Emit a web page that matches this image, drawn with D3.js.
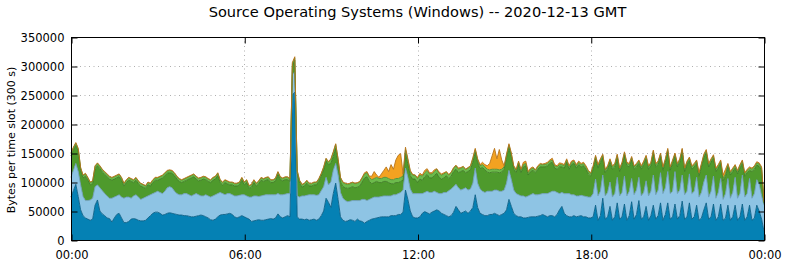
<!DOCTYPE html>
<html>
<head>
<meta charset="utf-8">
<script src="https://cdn.jsdelivr.net/npm/d3@7"></script>
<style>
body { margin: 0; background: #fff; }
svg { display: block; font-family: "DejaVu Sans", sans-serif; }
</style>
</head>
<body>
<svg></svg>
<script>
// values per 5 minute slot, in thousands of bytes (one row per hour)
let darkBlue = [
  74, 85, 96, 75, 52, 42, 38, 36, 34, 36, 60, 69,
  50, 45, 42, 38, 37, 31, 38, 44, 46, 38, 30, 30,
  32, 36, 37, 36, 34, 33, 33, 34, 38, 42, 46, 48,
  48, 46, 43, 44, 46, 47, 46, 45, 44, 43, 43, 42,
  42, 41, 40, 40, 41, 42, 43, 42, 40, 38, 35, 34,
  36, 40, 43, 44, 44, 45, 46, 44, 40, 38, 40, 42,
  40, 38, 36, 32, 33, 34, 35, 34, 34, 35, 36, 37,
  36, 38, 45, 40, 38, 40, 42, 40, 250, 255, 40, 36,
  36, 35, 36, 34, 35, 36, 34, 36, 42, 50, 72, 65,
  56, 80, 98, 70, 40, 34, 32, 33, 35, 34, 32, 36,
  33, 32, 29, 32, 34, 36, 37, 38, 39, 40, 40, 40,
  40, 42, 42, 42, 44, 44, 48, 86, 70, 50, 40, 38,
  38, 40, 46, 49, 47, 45, 48, 50, 52, 50, 46, 44,
  42, 40, 42, 48, 58, 52, 46, 48, 50, 46, 50, 56,
  78, 56, 46, 44, 42, 42, 44, 44, 46, 44, 42, 44,
  46, 52, 70, 58, 46, 42, 40, 40, 38, 38, 39, 40,
  40, 40, 41, 42, 44, 42, 40, 42, 42, 40, 44, 52,
  58, 46, 42, 40, 40, 42, 40, 41, 42, 40, 40, 38,
  38, 40, 60, 34, 42, 72, 36, 40, 58, 34, 40, 64,
  36, 40, 62, 34, 42, 66, 36, 44, 68, 36, 40, 58,
  34, 42, 60, 36, 42, 64, 34, 44, 64, 36, 40, 62,
  36, 42, 67, 36, 40, 64, 36, 40, 60, 34, 38, 52,
  64, 36, 40, 62, 34, 40, 62, 34, 38, 60, 34, 40,
  60, 34, 40, 62, 34, 40, 60, 34, 38, 60, 50, 36,
  15
]
let lightBlue = [
  34, 35, 36, 43, 43, 33, 30, 32, 35, 36, 32, 26,
  40, 40, 38, 38, 35, 41, 36, 32, 32, 36, 42, 44,
  42, 36, 39, 42, 40, 37, 39, 40, 38, 36, 34, 34,
  36, 36, 37, 40, 44, 45, 44, 39, 36, 35, 35, 38,
  38, 37, 36, 38, 39, 36, 33, 34, 38, 38, 39, 42,
  42, 40, 39, 36, 34, 35, 34, 34, 36, 38, 37, 36,
  38, 38, 38, 42, 43, 42, 40, 42, 43, 43, 42, 41,
  42, 40, 35, 38, 40, 39, 38, 40, 35, 35, 36, 38,
  40, 41, 41, 44, 43, 42, 43, 42, 43, 42, 36, 30,
  44, 40, 34, 42, 42, 38, 36, 33, 32, 34, 36, 32,
  35, 38, 41, 36, 36, 36, 37, 36, 35, 35, 36, 36,
  36, 34, 36, 36, 36, 38, 38, 38, 38, 38, 40, 42,
  42, 40, 34, 33, 37, 37, 34, 34, 30, 30, 34, 38,
  40, 45, 46, 44, 38, 38, 40, 40, 40, 40, 38, 42,
  46, 42, 42, 40, 40, 42, 40, 40, 40, 42, 42, 40,
  40, 46, 50, 46, 40, 38, 38, 36, 38, 36, 37, 38,
  40, 38, 37, 37, 36, 38, 40, 40, 42, 44, 38, 28,
  24, 34, 38, 40, 38, 36, 36, 35, 35, 36, 35, 36,
  36, 40, 45, 42, 42, 40, 40, 42, 42, 40, 40, 44,
  40, 42, 48, 42, 42, 40, 42, 42, 40, 40, 42, 44,
  42, 42, 52, 42, 44, 52, 46, 46, 54, 44, 44, 56,
  44, 44, 45, 42, 44, 50, 44, 44, 48, 40, 44, 48,
  48, 38, 44, 48, 38, 42, 44, 36, 42, 46, 38, 42,
  48, 38, 40, 50, 40, 40, 46, 38, 42, 44, 46, 40,
  45
]
let darkGreen = [
  37, 35, 31, 35, 25, 32, 42, 35, 26, 25, 31, 33,
  33, 32, 33, 33, 33, 31, 31, 31, 31, 29, 21, 25,
  29, 29, 23, 25, 23, 23, 19, 15, 19, 15, 19, 21,
  19, 23, 27, 27, 25, 24, 25, 27, 25, 23, 21, 21,
  23, 27, 31, 31, 25, 24, 27, 29, 26, 25, 25, 27,
  27, 31, 17, 15, 21, 17, 15, 17, 17, 17, 18, 25,
  17, 23, 15, 17, 23, 17, 22, 27, 24, 25, 26, 21,
  21, 24, 33, 26, 24, 25, 24, 21, 15, 20, 39, 24,
  15, 17, 21, 15, 15, 17, 18, 23, 25, 29, 28, 35,
  32, 24, 26, 20, 18, 20, 22, 23, 23, 24, 22, 23,
  25, 30, 37, 41, 31, 25, 25, 27, 25, 24, 25, 25,
  23, 21, 19, 21, 19, 19, 17, 25, 23, 23, 25, 25,
  19, 25, 23, 27, 29, 25, 25, 27, 33, 28, 25, 25,
  29, 21, 22, 26, 26, 26, 32, 32, 26, 32, 33, 36,
  27, 35, 35, 41, 39, 33, 32, 33, 31, 31, 32, 33,
  36, 44, 40, 40, 36, 36, 52, 40, 50, 54, 36, 40,
  40, 38, 44, 47, 46, 46, 48, 50, 50, 40, 40, 46,
  44, 44, 54, 42, 52, 54, 48, 54, 49, 52, 47, 40,
  36, 42, 35, 48, 50, 30, 40, 40, 34, 48, 46, 34,
  42, 46, 36, 52, 42, 32, 44, 40, 24, 46, 48, 38,
  46, 44, 37, 48, 44, 28, 40, 44, 34, 40, 48, 26,
  46, 48, 40, 40, 46, 23, 42, 42, 24, 36, 44, 42,
  38, 52, 50, 31, 46, 42, 26, 32, 30, 20, 40, 36,
  16, 42, 44, 20, 36, 36, 14, 46, 42, 25, 31, 44,
  3
]
let lightGreen = [
  4, 4, 4, 4, 4, 4, 4, 4, 4, 4, 4, 4,
  4, 4, 4, 4, 4, 4, 4, 4, 4, 4, 4, 4,
  4, 4, 4, 4, 4, 4, 4, 4, 4, 4, 4, 4,
  4, 4, 4, 4, 4, 4, 4, 4, 4, 4, 4, 4,
  4, 4, 4, 4, 4, 4, 4, 4, 4, 4, 4, 4,
  4, 4, 4, 4, 4, 4, 4, 4, 4, 4, 4, 4,
  4, 4, 4, 4, 4, 4, 4, 4, 4, 4, 4, 4,
  4, 4, 4, 4, 4, 4, 4, 4, 4, 4, 4, 4,
  4, 4, 4, 4, 4, 4, 4, 4, 4, 4, 4, 4,
  7, 7, 7, 7, 7, 7, 7, 7, 7, 7, 7, 7,
  7, 7, 7, 7, 7, 7, 7, 7, 7, 7, 7, 7,
  7, 7, 7, 7, 7, 7, 7, 7, 7, 7, 7, 7,
  7, 7, 7, 7, 7, 7, 7, 7, 7, 7, 7, 7,
  6, 6, 6, 6, 6, 6, 6, 6, 6, 6, 6, 6,
  5, 5, 5, 5, 5, 5, 5, 5, 5, 5, 5, 5,
  4, 4, 4, 4, 4, 4, 4, 4, 4, 4, 4, 4,
  4, 4, 4, 4, 4, 4, 4, 4, 4, 4, 4, 4,
  4, 4, 4, 4, 4, 4, 4, 4, 4, 4, 4, 4,
  4, 4, 4, 4, 4, 4, 4, 4, 4, 4, 4, 4,
  4, 4, 4, 4, 4, 4, 4, 4, 4, 4, 4, 4,
  4, 4, 4, 4, 4, 4, 4, 4, 4, 4, 4, 4,
  4, 4, 4, 4, 4, 4, 4, 4, 4, 4, 4, 4,
  4, 4, 4, 4, 4, 4, 4, 4, 4, 4, 4, 4,
  4, 4, 4, 4, 4, 4, 4, 4, 4, 4, 4, 4,
  2
]
let orange = [
  1, 1, 1, 1, 1, 1, 1, 1, 1, 1, 1, 1,
  1, 1, 1, 1, 1, 1, 1, 1, 1, 1, 1, 1,
  1, 1, 1, 1, 1, 1, 1, 1, 1, 1, 1, 1,
  1, 1, 1, 1, 1, 1, 1, 1, 1, 1, 1, 1,
  1, 1, 1, 1, 1, 1, 1, 1, 1, 1, 1, 1,
  1, 1, 1, 1, 1, 1, 1, 1, 1, 1, 1, 1,
  1, 1, 1, 1, 1, 1, 1, 1, 1, 1, 1, 1,
  1, 1, 1, 1, 1, 1, 1, 1, 2, 2, 1, 1,
  1, 1, 1, 1, 1, 1, 1, 1, 1, 1, 1, 1,
  1, 1, 1, 1, 1, 1, 1, 1, 1, 1, 1, 1,
  1, 1, 2, 2, 2, 6, 12, 4, 2, 8, 12, 18,
  12, 26, 18, 32, 40, 41, 4, 4, 2, 2, 1, 0,
  2, 3, 2, 4, 3, 2, 2, 3, 1, 2, 2, 2,
  1, 1, 1, 1, 1, 2, 1, 1, 0, 1, 1, 2,
  2, 2, 2, 4, 4, 6, 11, 23, 36, 18, 35, 16,
  2, 2, 2, 2, 2, 2, 2, 2, 4, 4, 2, 2,
  2, 1, 2, 2, 1, 2, 2, 2, 3, 2, 2, 3,
  2, 2, 2, 2, 2, 2, 2, 2, 2, 2, 2, 2,
  2, 2, 2, 2, 2, 2, 2, 2, 2, 2, 2, 2,
  2, 2, 2, 2, 2, 2, 2, 2, 2, 2, 2, 2,
  2, 2, 2, 2, 2, 2, 2, 2, 2, 2, 2, 2,
  2, 2, 2, 2, 2, 2, 2, 2, 2, 2, 2, 2,
  2, 2, 2, 2, 2, 2, 2, 6, 8, 2, 2, 2,
  2, 2, 2, 2, 2, 2, 2, 2, 2, 2, 2, 2,
  1
]

let yTicks = [0, 50000, 100000, 150000, 200000, 250000, 300000, 350000]
let xTickHours = [0, 6, 12, 18, 24]

let title = 'Source Operating Systems (Windows) -- 2020-12-13 GMT'
let yLabel = 'Bytes per time slot (300 s)'

let width = 785
let height = 264
let plotLeft = 71
let plotRight = 764
let plotTop = 37
let plotBottom = 240

let dayStart = Date.UTC(2020, 11, 13)
let slotMs = 300 * 1000

let keys = ['darkBlue', 'lightBlue', 'darkGreen', 'lightGreen', 'orange']
let fills = { darkBlue: '#0581b4', lightBlue: '#8ec4e4', darkGreen: '#4e9a2c', lightGreen: '#6cbb4c', orange: '#f3a221' }
let strokes = { darkBlue: '#0a5f86', lightBlue: '#6f9ebd', darkGreen: '#3d7a22', lightGreen: '#4f8d34', orange: '#b8741a' }

let series = { darkBlue, lightBlue, darkGreen, lightGreen, orange }
let rows = darkBlue.map((v, i) => {
  let row = { time: new Date(dayStart + i * slotMs) }
  keys.forEach(k => { row[k] = series[k][i] * 1000 })
  return row
})

let svg = d3.select('svg').attr('width', width).attr('height', height)

let xScale = d3.scaleUtc()
  .domain([new Date(dayStart), new Date(dayStart + 24 * 3600 * 1000)])
  .range([plotLeft, plotRight])
let yScale = d3.scaleLinear()
  .domain([0, 350000])
  .range([plotBottom, plotTop])

let xTickDates = xTickHours.map(h => new Date(dayStart + h * 3600 * 1000))

// grid
let grid = svg.append('g').attr('stroke', '#b0b0b0').attr('stroke-dasharray', '1,3.5')
grid.selectAll('.gy')
  .data(yTicks.slice(1, -1))
  .enter()
  .append('line')
  .attr('x1', plotLeft).attr('x2', plotRight)
  .attr('y1', d => Math.round(yScale(d)) + 0.5)
  .attr('y2', d => Math.round(yScale(d)) + 0.5)
grid.selectAll('.gx')
  .data(xTickDates.slice(1, -1))
  .enter()
  .append('line')
  .attr('y1', plotTop).attr('y2', plotBottom)
  .attr('x1', d => Math.round(xScale(d)) + 0.5)
  .attr('x2', d => Math.round(xScale(d)) + 0.5)

// stacked areas
let stacked = d3.stack().keys(keys)(rows)

let area = d3.area()
  .x(d => xScale(d.data.time))
  .y0(d => yScale(d[0]))
  .y1(d => yScale(d[1]))
let topLine = d3.line()
  .x(d => xScale(d.data.time))
  .y(d => yScale(d[1]))

svg.append('g')
  .selectAll('path')
  .data(stacked)
  .enter()
  .append('path')
  .attr('fill', d => fills[d.key])
  .attr('d', area)

svg.append('g')
  .selectAll('path')
  .data(stacked)
  .enter()
  .append('path')
  .attr('fill', 'none')
  .attr('stroke', d => strokes[d.key])
  .attr('stroke-width', 0.9)
  .attr('d', topLine)

// frame and ticks
svg.append('rect')
  .attr('x', plotLeft + 0.5).attr('y', plotTop + 0.5)
  .attr('width', plotRight - plotLeft).attr('height', plotBottom - plotTop)
  .attr('fill', 'none').attr('stroke', '#000').attr('stroke-width', 1)

let yAxis = d3.axisLeft(yScale).tickValues(yTicks).tickSize(-6).tickPadding(7).tickFormat(d3.format('d'))
let yAxisRight = d3.axisRight(yScale).tickValues(yTicks).tickSize(-6).tickFormat('')
let xAxis = d3.axisBottom(xScale).tickValues(xTickDates).tickSize(-6).tickPadding(10).tickFormat(d3.utcFormat('%H:%M'))
let xAxisTop = d3.axisTop(xScale).tickValues(xTickDates).tickSize(-6).tickFormat('')

let styleAxis = g => {
  g.select('.domain').remove()
  g.selectAll('line').attr('stroke', '#000')
  g.selectAll('text').attr('fill', '#000').style('font-size', '11.5px').style('font-family', 'DejaVu Sans, sans-serif')
}

svg.append('g').attr('transform', 'translate(' + (plotLeft + 0.5) + ',0.5)').call(yAxis).call(styleAxis)
svg.append('g').attr('transform', 'translate(' + (plotRight + 0.5) + ',0.5)').call(yAxisRight).call(styleAxis)
svg.append('g').attr('transform', 'translate(0.5,' + (plotBottom + 0.5) + ')').call(xAxis).call(styleAxis)
svg.append('g').attr('transform', 'translate(0.5,' + (plotTop + 0.5) + ')').call(xAxisTop).call(styleAxis)

svg.append('text')
  .attr('x', (plotLeft + plotRight) / 2)
  .attr('y', 17)
  .attr('text-anchor', 'middle')
  .style('font-size', '14.6px')
  .text(title)

svg.append('text')
  .attr('transform', 'translate(15,140) rotate(-90)')
  .attr('text-anchor', 'middle')
  .style('font-size', '11px')
  .text(yLabel)
</script>
</body>
</html>
